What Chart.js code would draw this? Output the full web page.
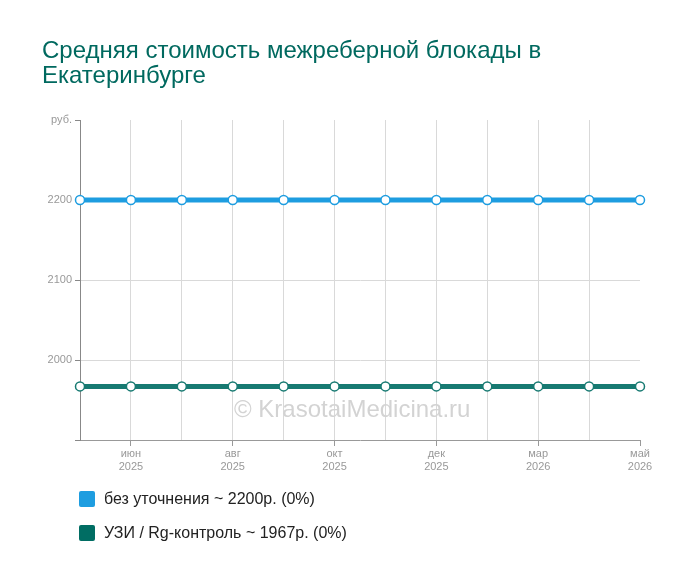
<!DOCTYPE html>
<html>
<head>
<meta charset="utf-8">
<script src="https://cdn.jsdelivr.net/npm/chart.js@4/dist/chart.umd.min.js"></script>
<style>
    body { margin: 0; background: #fff; font-family: "Liberation Sans", Arial, sans-serif; }
    #wrap { position: relative; width: 700px; height: 583px; }
    #chart { position: absolute; left: 0; top: 0; }
    #title { position: absolute; left: 42px; top: 37px; font-size: 24px; line-height: 25px; color: #00695f; }
    #watermark { position: absolute; left: 234px; top: 395px; font-size: 24px; color: #d3d3d3; }
    .legend { position: absolute; left: 79px; font-size: 16px; color: #222; }
    .legend span { display: inline-block; width: 16px; height: 16px; border-radius: 2px; vertical-align: -3px; margin-right: 9px; }
</style>
</head>
<body>
<div id="wrap">
    <canvas id="chart" width="700" height="583"></canvas>
    <div id="title">Средняя стоимость межреберной блокады в<br>Екатеринбурге</div>
    <div id="watermark">© KrasotaiMedicina.ru</div>
    <div class="legend" style="top:490px"><span style="background:#1e9de0"></span>без уточнения ~ 2200р. (0%)</div>
    <div class="legend" style="top:524px"><span style="background:#006d63"></span>УЗИ / Rg-контроль ~ 1967р. (0%)</div>
</div>
<script>
// Месяцы по оси X (подписи — через одну точку)
const months = [
    ['май', '2025'], ['июн', '2025'], ['июл', '2025'], ['авг', '2025'],
    ['сен', '2025'], ['окт', '2025'], ['ноя', '2025'], ['дек', '2025'],
    ['фев', '2026'], ['мар', '2026'], ['апр', '2026'], ['май', '2026']
];
const shownLabels = [1, 3, 5, 7, 9, 11];

// Значения серий
const noSpec = [2200, 2200, 2200, 2200, 2200, 2200, 2200, 2200, 2200, 2200, 2200, 2200];
const usControl = [1967, 1967, 1967, 1967, 1967, 1967, 1967, 1967, 1967, 1967, 1967, 1967];

// Ось Y
const yMin = 1900;
const yMax = 2300;
const yStep = 100;

document.addEventListener('DOMContentLoaded', function() {
    const ctx = document.getElementById('chart').getContext('2d');

    new Chart(ctx, {
        type: 'line',
        data: {
            labels: months,
            datasets: [
                {
                    data: noSpec,
                    borderColor: '#1e9de0',
                    borderWidth: 5,
                    pointRadius: 4.5,
                    pointBackgroundColor: '#fff',
                    pointBorderColor: '#1e9de0',
                    pointBorderWidth: 1.5
                },
                {
                    data: usControl,
                    borderColor: '#177a72',
                    borderWidth: 5,
                    pointRadius: 4.5,
                    pointBackgroundColor: '#fff',
                    pointBorderColor: '#177a72',
                    pointBorderWidth: 1.5
                }
            ]
        },
        options: {
            responsive: false,
            animation: false,
            layout: { padding: { top: 120, right: 60, left: 0, bottom: 0 } },
            plugins: { legend: { display: false }, tooltip: { enabled: false } },
            scales: {
                x: {
                    offset: false,
                    afterFit: s => { s.height = 143; },
                    border: { color: '#999' },
                    grid: {
                        color: c => (c.index === 0 || c.index === months.length - 1) ? 'rgba(0,0,0,0)' : '#d9d9d9',
                        tickColor: c => shownLabels.includes(c.index) ? '#999' : 'rgba(0,0,0,0)',
                        tickLength: 6
                    },
                    ticks: {
                        autoSkip: false,
                        maxRotation: 0,
                        color: '#999',
                        font: { family: 'Liberation Sans', size: 11 },
                        padding: 1,
                        callback: function(v, i) {
                            return shownLabels.includes(i) ? months[i] : '';
                        }
                    }
                },
                y: {
                    min: yMin,
                    max: yMax,
                    afterFit: s => { s.width = 80; },
                    border: { color: '#888' },
                    grid: {
                        color: c => (c.tick && (c.tick.value === yMin || c.tick.value === yMax)) ? 'rgba(0,0,0,0)' : '#d9d9d9',
                        tickColor: '#888',
                        tickLength: 5
                    },
                    ticks: {
                        stepSize: yStep,
                        color: '#999',
                        font: { family: 'Liberation Sans', size: 11 },
                        padding: 3,
                        callback: function(v) {
                            if (v === yMax) return 'руб.';
                            if (v === yMin) return '';
                            return v;
                        }
                    }
                }
            }
        }
    });
});
</script>
</body>
</html>
